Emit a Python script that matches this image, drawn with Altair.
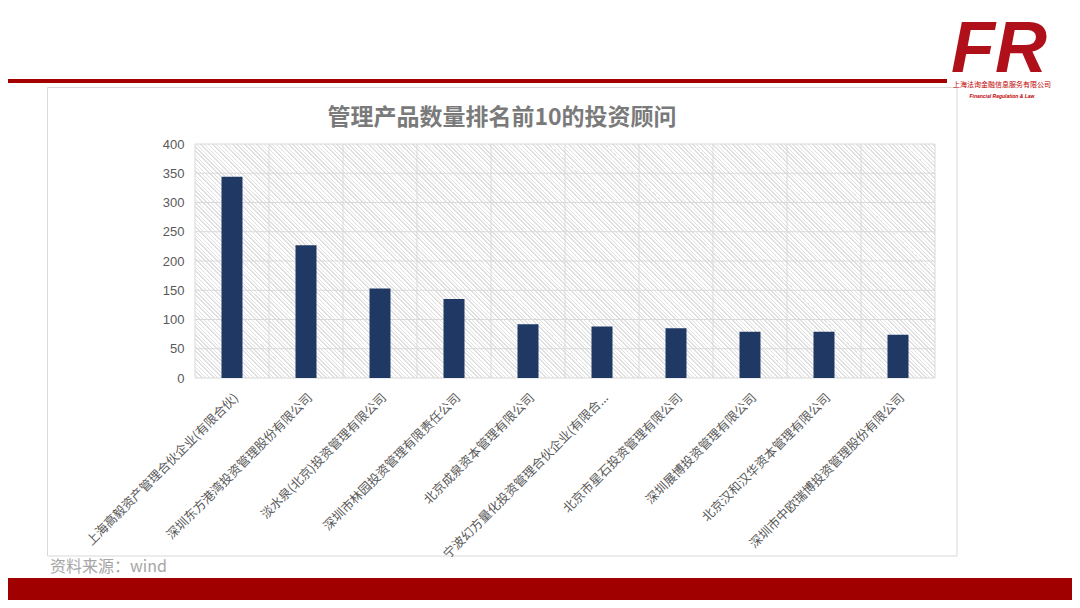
import altair as alt
import pandas as pd

# ---------------- data ----------------
categories = [
    "上海高毅资产管理合伙企业(有限合伙)",
    "深圳东方港湾投资管理股份有限公司",
    "淡水泉(北京)投资管理有限公司",
    "深圳市林园投资管理有限责任公司",
    "北京成泉资本管理有限公司",
    "宁波幻方量化投资管理合伙企业(有限合...",
    "北京市星石投资管理有限公司",
    "深圳展博投资管理有限公司",
    "北京汉和汉华资本管理有限公司",
    "深圳市中欧瑞博投资管理股份有限公司",
]
counts = [344, 227, 153, 135, 92, 88, 85, 79, 79, 74]
y_ticks = [0, 50, 100, 150, 200, 250, 300, 350, 400]

title_text = "管理产品数量排名前10的投资顾问"
source_text = "资料来源：wind"
logo_text = "FR"
logo_cn = "上海法询金融信息服务有限公司"
logo_en = "Financial Regulation & Law"

# ---------------- layout ----------------
W, H = 740, 234
PAD_L, PAD_T = 187, 136
TOTAL_W, TOTAL_H = 1064, 592
GRID = "#d9d9d9"
LABEL = "#595959"
CJK = "Noto Sans CJK SC"

df = pd.DataFrame({"name": categories, "count": counts})
grid_df = pd.DataFrame({"v": y_ticks})
one = pd.DataFrame({"a": [0]})

x_scale = alt.Scale(domain=categories, paddingInner=0, paddingOuter=0)
y_scale = alt.Scale(domain=[0, 400], nice=False)

x_axis = alt.Axis(
    title=None, labelAngle=315, labelFont=CJK, labelFontSize=12.5,
    labelColor=LABEL, ticks=False, domain=False, grid=False,
    labelPadding=13, labelLimit=400, zindex=2,
)
y_axis = alt.Axis(
    title=None, values=y_ticks, labelFont="Liberation Sans",
    labelFontSize=13, labelColor=LABEL, ticks=False, domain=False,
    grid=False, labelPadding=11, zindex=2,
)

# hatch-like background (light downward diagonal) via striped gradient,
# period aligned to 4 px horizontally
r = H / W
PERIOD = 4
n = 244
span = n * PERIOD
scale_f = span / (W + H)
tmax = (1 + r) / (1 + r * r) * scale_f
stops = []
for k in range(n):
    a = round(k / n, 6)
    b = round((k + 0.65) / n, 6)
    c = min(1.0, round((k + 1) / n, 6))
    stops += [
        alt.GradientStop(offset=a, color="#ffffff"),
        alt.GradientStop(offset=b, color="#ffffff"),
        alt.GradientStop(offset=b, color="#e0e0e0"),
        alt.GradientStop(offset=c, color="#e0e0e0"),
    ]
hatch = alt.LinearGradient(
    gradient="linear", stops=stops, x1=0, y1=1, x2=tmax, y2=1 - r * tmax
)

base1 = alt.Chart(one)

frame = base1.mark_rect(fill="white", stroke=GRID, strokeWidth=1).encode(
    x=alt.value(-147.5), x2=alt.value(762), y=alt.value(-56.5), y2=alt.value(412)
)
red_line = base1.mark_rect(fill="#A30000").encode(
    x=alt.value(-187), x2=alt.value(752), y=alt.value(-65), y2=alt.value(-61)
)
red_band = base1.mark_rect(fill="#A00000").encode(
    x=alt.value(-187), x2=alt.value(TOTAL_W - PAD_L), y=alt.value(434),
    y2=alt.value(TOTAL_H - PAD_T)
)
bg = base1.mark_rect(fill=hatch).encode(
    x=alt.value(0), x2=alt.value(W), y=alt.value(0), y2=alt.value(H)
)

hgrid = alt.Chart(grid_df).mark_rule(color=GRID, strokeWidth=1).encode(
    y=alt.Y("v:Q", scale=y_scale, axis=y_axis)
)
vgrid = alt.Chart(df).mark_rule(color=GRID, strokeWidth=1).encode(
    x=alt.X("name:N", bandPosition=0, sort=categories, scale=x_scale, axis=x_axis)
)
right_edge = base1.mark_rule(color=GRID, strokeWidth=1).encode(
    x=alt.value(W), y=alt.value(0), y2=alt.value(H)
)

bars = alt.Chart(df).mark_bar(color="#203864", size=21).encode(
    x=alt.X("name:N", sort=categories, scale=x_scale, axis=x_axis),
    y=alt.Y("count:Q", scale=y_scale, axis=y_axis),
)

title = base1.mark_text(
    text=title_text, font=CJK, fontSize=23, fontWeight="bold", color="#7a7a7a",
    align="center", baseline="middle",
).encode(x=alt.value(307), y=alt.value(-26))

source = base1.mark_text(
    text=source_text, font=CJK, fontSize=16, color="#a6a6a6",
    align="left", baseline="middle",
).encode(x=alt.value(-145), y=alt.value(423))

logo = base1.mark_text(
    text=logo_text, font="Liberation Sans", fontSize=72, fontWeight="bold",
    fontStyle="italic", color="#B0101A", align="left", baseline="alphabetic",
).encode(x=alt.value(756), y=alt.value(-72))

logo_sub = base1.mark_text(
    text=logo_cn, font=CJK, fontSize=7, color="#C00000",
    align="center", baseline="middle",
).encode(x=alt.value(807), y=alt.value(-59))

logo_en_t = base1.mark_text(
    text=logo_en, font="Liberation Sans", fontSize=5, fontStyle="italic",
    fontWeight="bold", color="#C00000", align="center", baseline="middle",
).encode(x=alt.value(807), y=alt.value(-48))

chart = (
    alt.layer(
        frame, red_line, red_band, bg, hgrid, vgrid, right_edge, bars,
        title, source, logo, logo_sub, logo_en_t,
    )
    .properties(
        width=W, height=H,
        padding={"left": PAD_L, "top": PAD_T,
                 "right": TOTAL_W - PAD_L - W, "bottom": TOTAL_H - PAD_T - H},
        autosize=alt.AutoSizeParams(type="none"),
        background="white",
    )
    .configure_view(stroke=None)
)

chart.save("out.html", embed_options={"renderer": "svg", "actions": False})
